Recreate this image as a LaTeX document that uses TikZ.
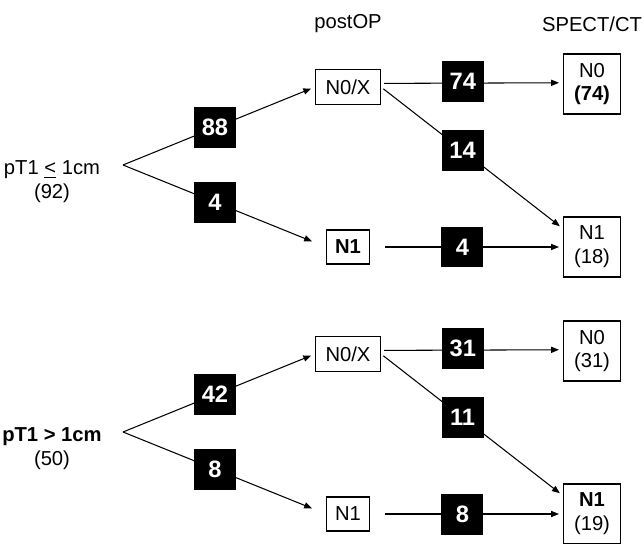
\documentclass[tikz,border=0pt]{standalone}
\usepackage{fontspec}
\setmainfont{Liberation Sans}
\usetikzlibrary{arrows.meta}
\usetikzlibrary{calc}

\begin{document}
\begin{tikzpicture}[x=0.02cm, y=-0.02cm, font=\fontsize{11.5}{13.6}\selectfont,
    stage/.style={draw, line width=0.6pt, inner sep=0pt, align=center},
    postbox/.style={stage, minimum width=1.3cm, minimum height=0.7cm},
    nbox/.style={stage, minimum width=0.86cm, minimum height=0.68cm},
    resbox/.style={stage, minimum width=1.14cm, minimum height=1.2cm},
    numbox/.style={fill=black, text=white, font=\fontsize{13.5}{15}\selectfont\bfseries, minimum width=0.84cm, minimum height=0.82cm, inner sep=0pt},
    arr/.style={-{Triangle[length=4.5pt,width=3.5pt]}, line width=0.6pt}]
                \useasboundingbox (0,0) rectangle (644,543);
                \node (postop) at (348,24) {postOP};
                \node (spect) at (592,24) {SPECT/CT};
                % pT1 <= 1cm
                \node[align=center] (smalltum) at (52,182) {pT1 \underline{<} 1cm\\(92)};
                \coordinate (forka) at (123,165);
                \node[postbox] (n0xa) at (348,87) {N0/X};
                \node[nbox] (n1a) at (348,247) {\bfseries N1};
                \node[resbox] (n0ra) at (592,84) {N0\\\bfseries (74)};
                \node[resbox] (n1ra) at (592,247) {N1\\(18)};
                \draw[arr, shorten >=0.08cm] (forka) -- node[numbox, pos=0.479] {88} (n0xa.west);
                \draw[arr, shorten >=0.3cm] (forka) -- node[numbox, pos=0.453] {4} (n1a.west);
                \draw[arr, shorten <=0.06cm, shorten >=0.08cm] ($(n0xa.north east)!0.4!(n0xa.south east)$) -- node[numbox, pos=0.45, yshift=0.04cm] {74} ($(n0ra.north west)!0.48!(n0ra.south west)$);
                \draw[arr, shorten <=0.06cm, shorten >=0.08cm] (n0xa.east) -- node[numbox, pos=0.448] {14} ($(n1ra.north west)!0.2!(n1ra.south west)$);
                \draw[arr, shorten <=0.3cm, shorten >=0.08cm] (n1a.east) -- node[numbox, pos=0.479] {4} (n1ra.west);
                % pT1 > 1cm
                \node[align=center] (largetum) at (52,449) {\bfseries pT1 > 1cm\\(50)};
                \coordinate (forkb) at (123,432);
                \node[postbox] (n0xb) at (348,354) {N0/X};
                \node[nbox] (n1b) at (348,514) {N1};
                \node[resbox] (n0rb) at (592,351) {N0\\(31)};
                \node[resbox] (n1rb) at (592,514) {\bfseries N1\\(19)};
                \draw[arr, shorten >=0.08cm] (forkb) -- node[numbox, pos=0.479] {42} (n0xb.west);
                \draw[arr, shorten >=0.3cm] (forkb) -- node[numbox, pos=0.453] {8} (n1b.west);
                \draw[arr, shorten <=0.06cm, shorten >=0.08cm] ($(n0xb.north east)!0.4!(n0xb.south east)$) -- node[numbox, pos=0.45, yshift=0.04cm] {31} ($(n0rb.north west)!0.48!(n0rb.south west)$);
                \draw[arr, shorten <=0.06cm, shorten >=0.08cm] (n0xb.east) -- node[numbox, pos=0.448] {11} ($(n1rb.north west)!0.2!(n1rb.south west)$);
                \draw[arr, shorten <=0.3cm, shorten >=0.08cm] (n1b.east) -- node[numbox, pos=0.479] {8} (n1rb.west);
            \end{tikzpicture}
\end{document}
